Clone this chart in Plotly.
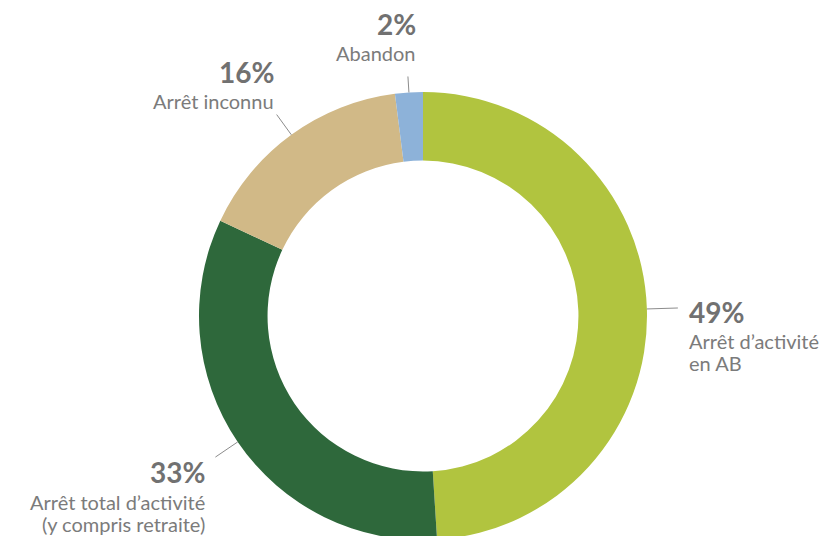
import math
import plotly.graph_objects as go

# ---- data ----
categories = ["Arrêt d’activité en AB", "Arrêt total d’activité (y compris retraite)",
              "Arrêt inconnu", "Abandon"]
values = [49, 33, 16, 2]
label_lines = [["Arrêt d’activité", "en AB"],
               ["Arrêt total d’activité", "(y compris retraite)"],
               ["Arrêt inconnu"],
               ["Abandon"]]
colors = ["#b1c43f", "#2e683b", "#d1b987", "#8db2d9"]

# ---- layout geometry (figure pixels) ----
W, H = 827, 536
CX, CY, R = 415, 308, 224
HOLE = 0.694

# per-label style: leader length, text side, x shift, pct offset and name offsets (px, down +)
label_style = [
    dict(L=31, side="left", xs=9, pct_dy=4, name_dy=[33, 55]),
    dict(L=27, side="right", xs=-8, pct_dy=15, name_dy=[45, 67]),
    dict(L=25, side="right", xs=-1, pct_dy=-43, name_dy=[-14]),
    dict(L=16, side="right", xs=10, pct_dy=-52, name_dy=[-23]),
]

PCT_COLOR = "#717171"
NAME_COLOR = "#7b7b7b"
LINE_COLOR = "#8c8c8c"
FONT = "Lato"
PCT_SIZE = 28
NAME_SIZE = 20


def px_to_paper(x, y):
    return x / W, 1 - y / H


fig = go.Figure(go.Pie(
    labels=categories,
    values=values,
    sort=False,
    direction="clockwise",
    rotation=0,
    hole=HOLE,
    marker=dict(colors=colors, line=dict(width=0)),
    textinfo="none",
    hoverinfo="label+percent",
    showlegend=False,
    domain=dict(x=[(CX - R) / W, (CX + R) / W],
                y=[max(0, 1 - (CY + R) / H), 1 - (CY - R) / H]),
))

total = sum(values)
shapes = []
annotations = []
cum = 0
for i, v in enumerate(values):
    mid = (cum + v / 2) / total * 2 * math.pi
    cum += v
    dx, dy = math.sin(mid), -math.cos(mid)
    st = label_style[i]
    x0, y0 = CX + R * dx, CY + R * dy
    x1, y1 = CX + (R + st["L"]) * dx, CY + (R + st["L"]) * dy
    p0 = px_to_paper(x0, y0)
    p1 = px_to_paper(x1, y1)
    shapes.append(dict(type="line", xref="paper", yref="paper",
                       x0=p0[0], y0=p0[1], x1=p1[0], y1=p1[1],
                       line=dict(color=LINE_COLOR, width=1)))
    anchor = "left" if st["side"] == "left" else "right"
    pct = round(v / total * 100)
    annotations.append(dict(
        xref="paper", yref="paper", x=p1[0], y=p1[1],
        xanchor=anchor, yanchor="middle", xshift=st["xs"], yshift=-st["pct_dy"],
        text=f"{pct}%", showarrow=False,
        font=dict(family=FONT, size=PCT_SIZE, color=PCT_COLOR, weight="bold")))
    for line, ndy in zip(label_lines[i], st["name_dy"]):
        annotations.append(dict(
            xref="paper", yref="paper", x=p1[0], y=p1[1],
            xanchor=anchor, yanchor="middle", xshift=st["xs"], yshift=-ndy,
            text=line, showarrow=False,
            font=dict(family=FONT, size=NAME_SIZE, color=NAME_COLOR)))

fig.update_layout(
    width=W, height=H,
    margin=dict(l=0, r=0, t=0, b=0),
    paper_bgcolor="white", plot_bgcolor="white",
    shapes=shapes, annotations=annotations,
)

fig.write_html("out.html")
